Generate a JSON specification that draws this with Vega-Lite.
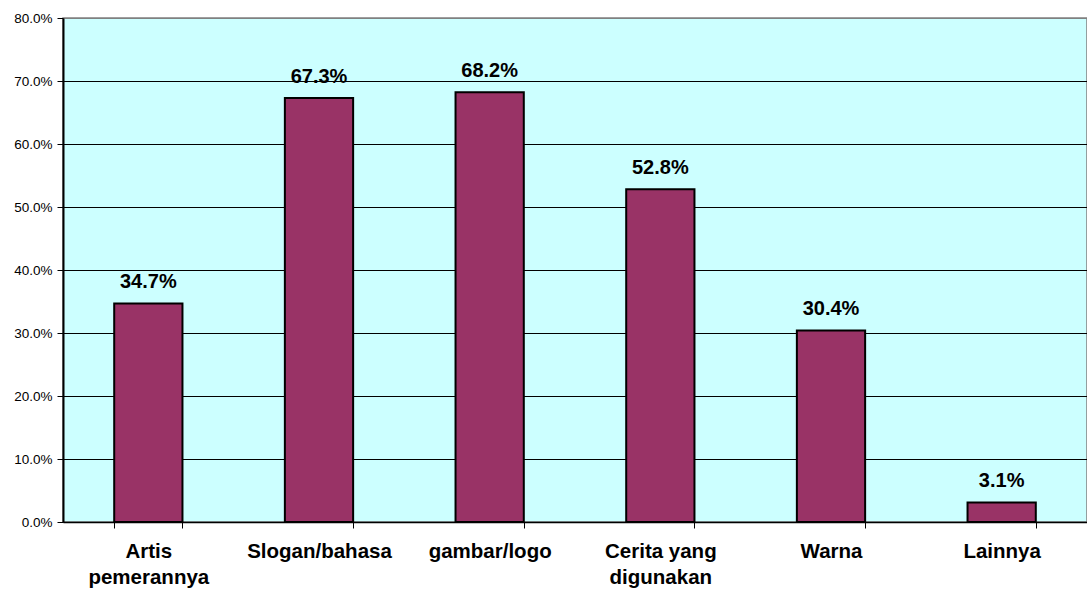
{
  "$schema": "https://vega.github.io/schema/vega-lite/v6.json",
  "width": 1024,
  "height": 504,
  "autosize": {"type": "none"},
  "padding": {"left": 63, "top": 18, "right": 0, "bottom": 69},
  "background": "white",
  "config": {
    "font": "Liberation Sans",
    "view": {"fill": "#CCFFFF", "stroke": "#808080", "strokeWidth": 1.5}
  },
  "data": {
    "values": [
      {"kategori": "Artis pemerannya", "persen": 0.347},
      {"kategori": "Slogan/bahasa", "persen": 0.673},
      {"kategori": "gambar/logo", "persen": 0.682},
      {"kategori": "Cerita yang digunakan", "persen": 0.528},
      {"kategori": "Warna", "persen": 0.304},
      {"kategori": "Lainnya", "persen": 0.031}
    ]
  },
  "encoding": {
    "x": {
      "field": "kategori",
      "type": "nominal",
      "sort": null,
      "scale": {"paddingInner": 0.6, "paddingOuter": 0.3},
      "axis": {
        "title": null,
        "labelAngle": 0,
        "labelFont": "Liberation Sans",
        "labelFontSize": 20.5,
        "labelFontWeight": "bold",
        "labelColor": "black",
        "labelPadding": 13,
        "labelLineHeight": 26,
        "labelExpr": "datum.label == 'Artis pemerannya' ? ['Artis', 'pemerannya'] : datum.label == 'Cerita yang digunakan' ? ['Cerita yang', 'digunakan'] : datum.label",
        "tickBand": "extent",
        "tickSize": 6,
        "tickColor": "black",
        "domainColor": "black",
        "domainWidth": 1.5,
        "grid": false
      }
    },
    "y": {
      "field": "persen",
      "type": "quantitative",
      "scale": {"domain": [0, 0.8], "nice": false},
      "axis": {
        "title": null,
        "format": ".1%",
        "values": [0, 0.1, 0.2, 0.3, 0.4, 0.5, 0.6, 0.7, 0.8],
        "labelFont": "Liberation Sans",
        "labelFontSize": 13.5,
        "labelColor": "black",
        "labelPadding": 5,
        "tickSize": 6,
        "tickColor": "black",
        "domainColor": "black",
        "domainWidth": 2,
        "grid": true,
        "gridColor": {"condition": {"test": "datum.value >= 0.79", "value": "#808080"}, "value": "black"},
        "gridWidth": 1,
        "gridOpacity": 1
      }
    }
  },
  "layer": [
    {
      "mark": {"type": "bar", "color": "#993366", "stroke": "black", "strokeWidth": 2}
    },
    {
      "mark": {"type": "text", "baseline": "alphabetic", "dy": -15, "fontSize": 20, "fontWeight": "bold", "font": "Liberation Sans", "color": "black"},
      "encoding": {
        "text": {"field": "persen", "type": "quantitative", "format": ".1%"}
      }
    }
  ]
}
